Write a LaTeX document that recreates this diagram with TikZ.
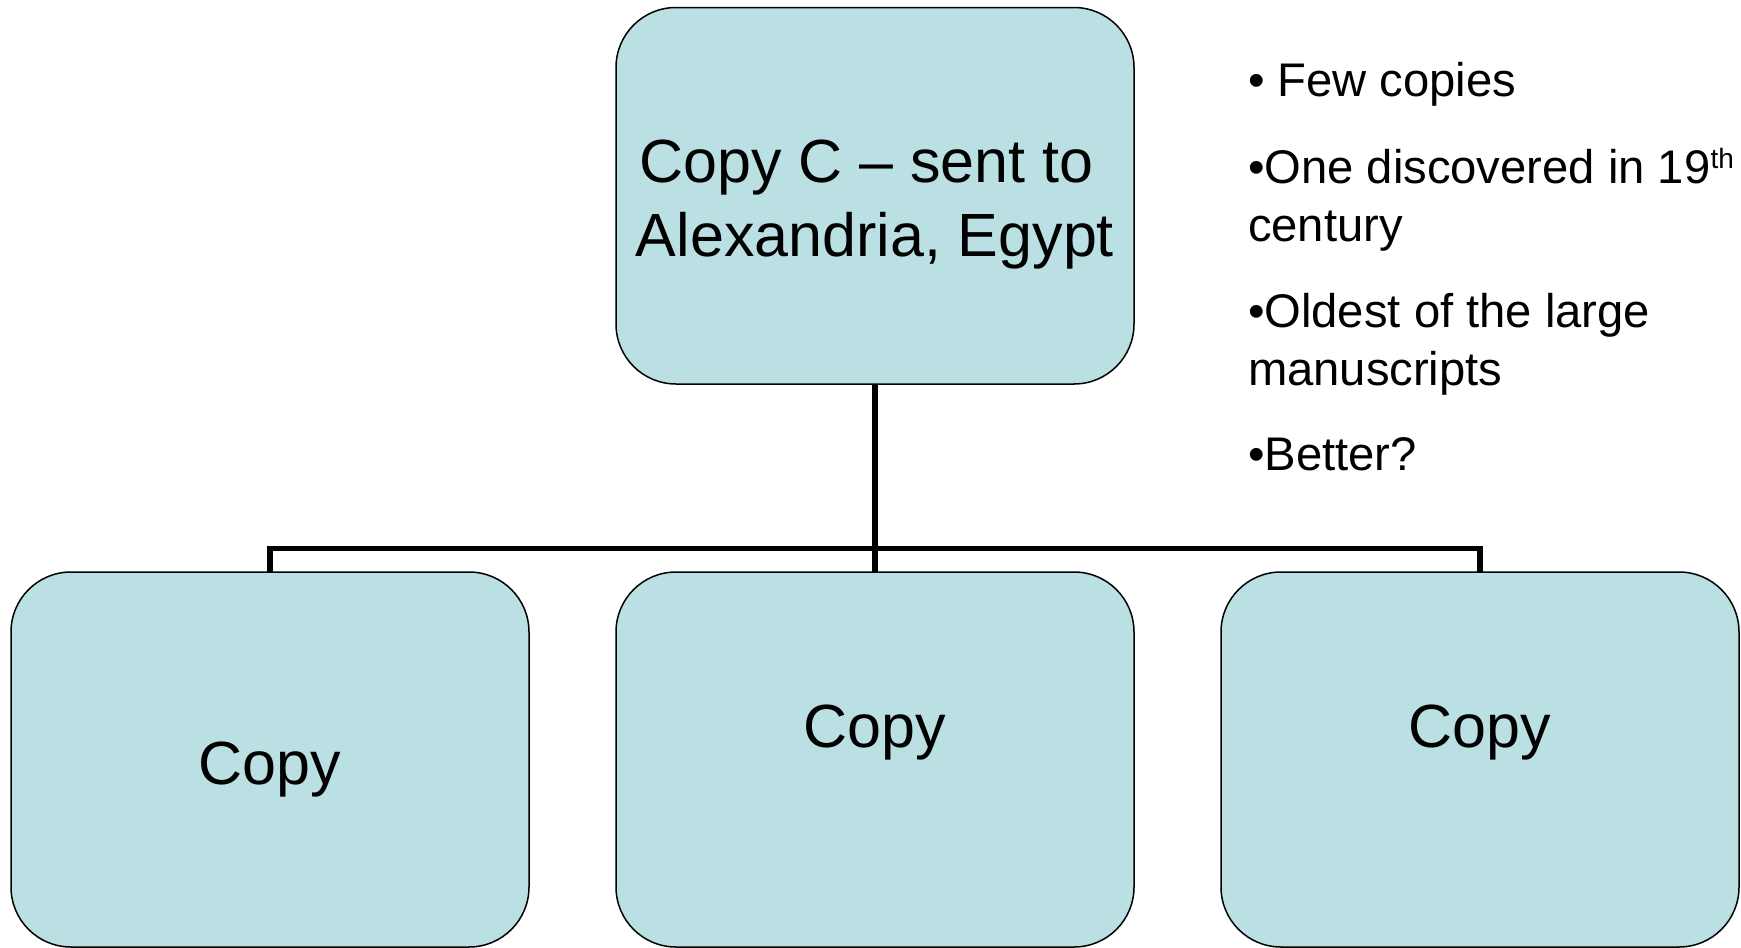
\documentclass[tikz,border=0pt]{standalone}
\usepackage{fontspec}
\setmainfont{Liberation Sans}
\definecolor{boxfill}{RGB}{186,224,227}
\begin{document}
\begin{tikzpicture}[x=0.5pt,y=-0.5pt,
  card/.style={draw=black, line width=0.75pt, fill=boxfill, rounded corners=30pt,
    minimum width=259pt, minimum height=187.5pt, inner sep=0pt, outer sep=0pt},
  link/.style={draw=black, line width=2.7pt, line join=miter},
  caption/.style={inner sep=0pt, outer sep=0pt, anchor=base,
    font=\fontsize{30.5}{37}\selectfont},
  note/.style={inner sep=0pt, outer sep=0pt, anchor=base west,
    font=\fontsize{23.6}{29}\selectfont}]
\useasboundingbox (0,0) rectangle (1741,948);

% boxes
\node[card, minimum height=188.25pt] (src) at (875,195.75) {};
\node[card] (c1) at (270,759.5) {};
\node[card] (c2) at (875,759.5) {};
\node[card] (c3) at (1480,759.5) {};

% tree connectors
\coordinate (bus) at (875,548.5);
\draw[link] (src.south) -- (c2.north);
\draw[link] (c1.north) -- (c1.north |- bus) -- (c3.north |- bus) -- (c3.north);

% box labels
\node[caption] (srctext) at (875,182)
  {\begin{tabular}[t]{@{}c@{}}Copy C – sent to\kern0.278em\\Alexandria, Egypt\end{tabular}};
\node[caption] (t1) at (270,784) {Copy};
\node[caption] (t2) at (875,747) {Copy};
\node[caption] (t3) at (1480,747) {Copy};

% notes on the right
\node[note] (n1) at (1248,96) {• Few copies};
\node[note] (n2) at (1248,183)
  {\begin{tabular}[t]{@{}l@{}}•One discovered in 19\raisebox{7.5pt}{\fontsize{14}{15}\selectfont th}\\century\end{tabular}};
\node[note] (n3) at (1248,327)
  {\begin{tabular}[t]{@{}l@{}}•Oldest of the large\\manuscripts\end{tabular}};
\node[note] (n4) at (1248,470) {•Better?};
\end{tikzpicture}
\end{document}
